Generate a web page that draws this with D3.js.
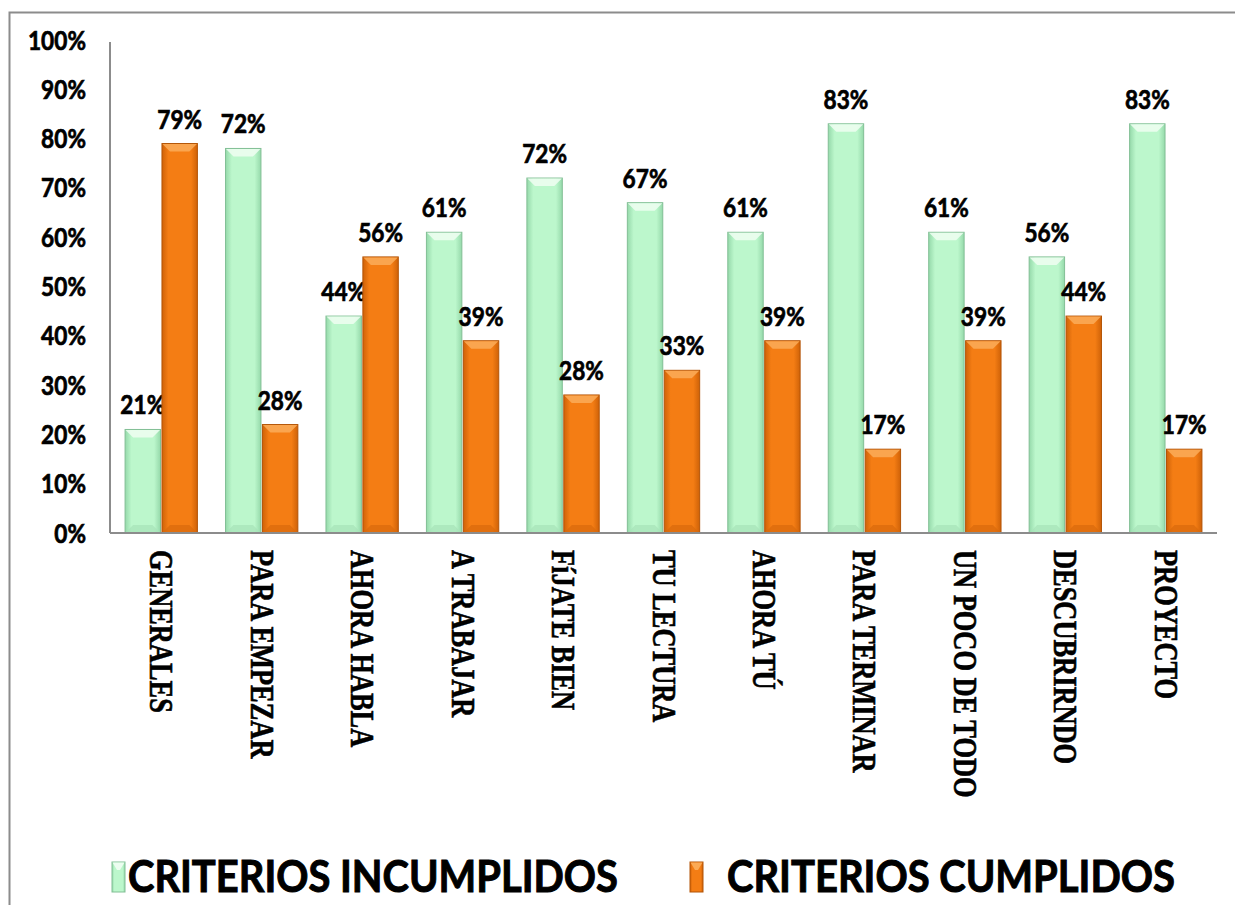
<!DOCTYPE html>
<html>
<head>
<meta charset="utf-8">
<script src="https://cdnjs.cloudflare.com/ajax/libs/d3/7.8.5/d3.min.js"></script>
<style>
  html, body { margin: 0; padding: 0; background: #fff; }
  svg { display: block; }
</style>
</head>
<body>
<div id="chart"></div>
<script>
"use strict";

// categories and values
const categories = ["GENERALES", "PARA EMPEZAR", "AHORA HABLA", "A TRABAJAR", "FíJATE BIEN",
  "TU LECTURA", "AHORA TÚ", "PARA TERMINAR", "UN POCO DE TODO", "DESCUBRIRNDO", "PROYECTO"];
const incumplidos = [0.21, 0.78, 0.44, 0.61, 0.72, 0.67, 0.61, 0.83, 0.61, 0.56, 0.83];
const cumplidos = [0.79, 0.22, 0.56, 0.39, 0.28, 0.33, 0.39, 0.17, 0.39, 0.44, 0.17];
// printed labels (a couple differ from the bar heights in the original)
const labelsIncumplidos = ["21%", "72%", "44%", "61%", "72%", "67%", "61%", "83%", "61%", "56%", "83%"];
const labelsCumplidos = ["79%", "28%", "56%", "39%", "28%", "33%", "39%", "17%", "39%", "44%", "17%"];
const seriesNames = ["CRITERIOS INCUMPLIDOS", "CRITERIOS CUMPLIDOS"];
const yTicks = [0, 0.1, 0.2, 0.3, 0.4, 0.5, 0.6, 0.7, 0.8, 0.9, 1.0];

const width = 1235, height = 905;
const plotLeft = 110, plotRight = 1217, plotTop = 40, plotBottom = 533;
const sansFont = "Lato, 'Open Sans', sans-serif";
const narrow = 0.84; // horizontal squeeze to get a Calibri-like width

const svg = d3.select("#chart").append("svg")
  .attr("width", width).attr("height", height);

// gradients for the bevelled bars
const defs = svg.append("defs");
const palettes = [
  { id: "g", edge: "#95d9aa", mid: "#bcf7cc", stroke: "#82bf95", topc: "#ecfdf0", botc: "#a6e2b8" },
  { id: "o", edge: "#cf6208", mid: "#f47d14", stroke: "#b35407", topc: "#fbaa55", botc: "#d96a0c" }
];
palettes.forEach(p => {
  const lg = defs.append("linearGradient").attr("id", "grad-" + p.id)
    .attr("x1", 0).attr("x2", 1).attr("y1", 0).attr("y2", 0);
  lg.append("stop").attr("offset", "0%").attr("stop-color", p.edge);
  lg.append("stop").attr("offset", "18%").attr("stop-color", p.mid);
  lg.append("stop").attr("offset", "82%").attr("stop-color", p.mid);
  lg.append("stop").attr("offset", "100%").attr("stop-color", p.edge);
});

// frame around the chart
svg.append("rect")
  .attr("x", 9.5).attr("y", 12.5)
  .attr("width", width + 20).attr("height", height + 20)
  .attr("fill", "none").attr("stroke", "#8c8c8c").attr("stroke-width", 2);

const x = d3.scaleBand().domain(categories).range([plotLeft, plotRight])
  .paddingInner(0.28).paddingOuter(0.15);
const xSub = d3.scaleBand().domain([0, 1]).range([0, x.bandwidth()]).paddingInner(0.04);
const y = d3.scaleLinear().domain([0, 1]).range([plotBottom, plotTop]);

// y tick labels
svg.append("g").selectAll("text").data(yTicks).join("text")
  .attr("transform", d => `translate(86,${y(d) + 9.5}) scale(${narrow},1)`)
  .attr("text-anchor", "end")
  .attr("font-family", sansFont)
  .attr("font-weight", "bold").attr("font-size", 27)
  .attr("stroke", "#000").attr("stroke-width", 0.7)
  .text(d => d3.format(".0%")(d));

// bars
const series = [incumplidos, cumplidos];
const labels = [labelsIncumplidos, labelsCumplidos];
const bev = 8;

series.forEach((vals, si) => {
  const p = palettes[si];
  const g = svg.append("g");
  categories.forEach((c, i) => {
    const bx = x(c) + xSub(si), bw = xSub.bandwidth();
    const by = y(vals[i]), bh = plotBottom - by;
    const b = Math.min(bev, bh / 2);
    g.append("rect")
      .attr("x", bx).attr("y", by).attr("width", bw).attr("height", bh)
      .attr("fill", "url(#grad-" + p.id + ")")
      .attr("stroke", p.stroke).attr("stroke-width", 1);
    // top bevel
    g.append("path")
      .attr("d", `M${bx + 0.5},${by + 0.5}H${bx + bw - 0.5}L${bx + bw - b},${by + b}H${bx + b}Z`)
      .attr("fill", p.topc).attr("opacity", 0.9);
    // bottom bevel
    g.append("path")
      .attr("d", `M${bx + 0.5},${plotBottom - 0.5}H${bx + bw - 0.5}L${bx + bw - b},${plotBottom - b}H${bx + b}Z`)
      .attr("fill", p.botc).attr("opacity", 0.7);
    // value label
    g.append("text")
      .attr("transform", `translate(${bx + bw / 2},${by - 15}) scale(${narrow},1)`)
      .attr("text-anchor", "middle")
      .attr("font-family", sansFont)
      .attr("font-weight", "bold").attr("font-size", 27)
      .attr("stroke", "#000").attr("stroke-width", 0.7)
      .text(labels[si][i]);
  });
});

// axes lines
svg.append("line")
  .attr("x1", plotLeft).attr("x2", plotLeft).attr("y1", 42).attr("y2", plotBottom)
  .attr("stroke", "#8c8c8c").attr("stroke-width", 2);
svg.append("line")
  .attr("x1", plotLeft).attr("x2", plotRight).attr("y1", plotBottom).attr("y2", plotBottom)
  .attr("stroke", "#8c8c8c").attr("stroke-width", 2);

// category labels, rotated to read downwards
svg.append("g").selectAll("text").data(categories).join("text")
  .attr("transform", d => `translate(${x(d) + x.bandwidth() / 2 - 11},550) rotate(90) scale(0.8,1)`)
  .attr("font-family", "'Liberation Serif', 'Times New Roman', serif")
  .attr("font-weight", "bold").attr("font-size", 33)
  .attr("stroke", "#000").attr("stroke-width", 0.6)
  .text(d => d);

// legend
const legendItems = [{ x: 112, tx: 128, len: 490 }, { x: 690, tx: 727, len: 448 }];
legendItems.forEach((l, i) => {
  const p = palettes[i];
  svg.append("rect")
    .attr("x", l.x).attr("y", 862).attr("width", 13).attr("height", 30)
    .attr("fill", "url(#grad-" + p.id + ")").attr("stroke", p.stroke).attr("stroke-width", 1);
  svg.append("path")
    .attr("d", `M${l.x + 0.5},${862.5}H${l.x + 12.5}L${l.x + 8},${870}H${l.x + 5}Z`)
    .attr("fill", p.topc);
  svg.append("text")
    .attr("x", l.tx).attr("y", 892)
    .attr("textLength", l.len).attr("lengthAdjust", "spacingAndGlyphs")
    .attr("font-family", sansFont)
    .attr("font-weight", "bold").attr("font-size", 44)
    .attr("stroke", "#000").attr("stroke-width", 1)
    .text(seriesNames[i]);
});
</script>
</body>
</html>
